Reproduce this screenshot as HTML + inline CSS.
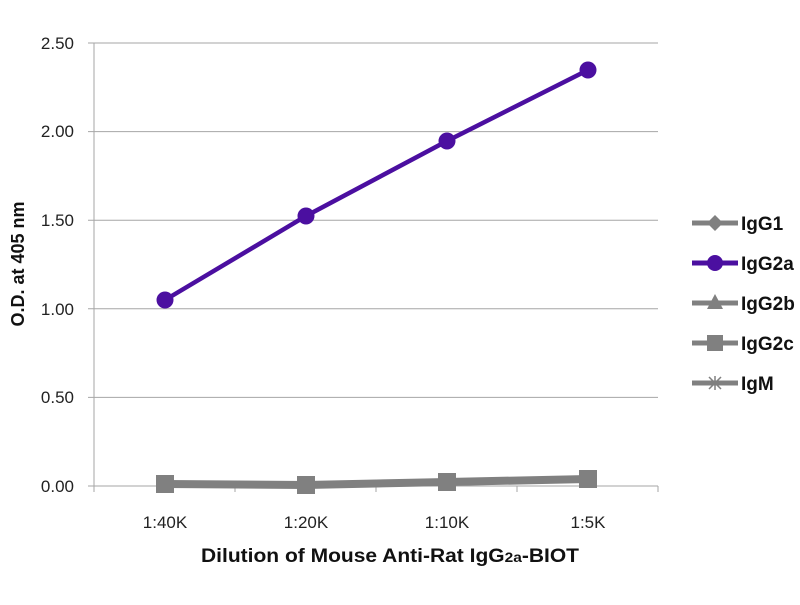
<!DOCTYPE html>
<html><head><style>body{margin:0;background:#fff}</style></head><body>
<svg width="800" height="600" xmlns="http://www.w3.org/2000/svg" font-family="Liberation Sans, sans-serif">
<rect width="800" height="600" fill="#fff"/>
<g stroke="#a6a6a6" stroke-width="1">
<line x1="88" y1="43" x2="658" y2="43"/>
<line x1="88" y1="131.6" x2="658" y2="131.6"/>
<line x1="88" y1="220.2" x2="658" y2="220.2"/>
<line x1="88" y1="308.8" x2="658" y2="308.8"/>
<line x1="88" y1="397.4" x2="658" y2="397.4"/>
<line x1="88" y1="486" x2="658" y2="486"/>
<line x1="94" y1="43" x2="94" y2="486"/>
<line x1="94" y1="486" x2="94" y2="492"/><line x1="235" y1="486" x2="235" y2="492"/><line x1="376" y1="486" x2="376" y2="492"/><line x1="517" y1="486" x2="517" y2="492"/><line x1="658" y1="486" x2="658" y2="492"/>
</g>
<g font-size="17" fill="#222" text-anchor="end">
<text x="74" y="49">2.50</text><text x="74" y="137">2.00</text><text x="74" y="226">1.50</text>
<text x="74" y="315">1.00</text><text x="74" y="403">0.50</text><text x="74" y="492">0.00</text>
</g>
<g font-size="17" fill="#222" text-anchor="middle">
<text x="165" y="528">1:40K</text><text x="306" y="528">1:20K</text><text x="447" y="528">1:10K</text><text x="588" y="528">1:5K</text>
</g>
<text x="390" y="562" font-size="19" font-weight="bold" text-anchor="middle" fill="#111" textLength="378" lengthAdjust="spacingAndGlyphs">Dilution of Mouse Anti-Rat IgG<tspan font-size="14">2a</tspan>-BIOT</text>
<text transform="translate(24,264) rotate(-90)" font-size="18" font-weight="bold" text-anchor="middle" fill="#111">O.D. at 405 nm</text>
<polyline points="165,484 306,485 447,482 588,479" fill="none" stroke="#808080" stroke-width="8"/>
<g fill="#808080">
<rect x="156" y="475" width="18" height="18"/><rect x="297" y="476" width="18" height="18"/><rect x="438" y="473" width="18" height="18"/><rect x="579" y="470" width="18" height="18"/>
</g>
<polyline points="165,300 306,216 447,141 588,70" fill="none" stroke="#4b0fa0" stroke-width="4.5"/>
<g fill="#4b0fa0">
<circle cx="165" cy="300" r="8.5"/><circle cx="306" cy="216" r="8.5"/><circle cx="447" cy="141" r="8.5"/><circle cx="588" cy="70" r="8.5"/>
</g>
<g font-size="19" font-weight="bold" fill="#111">
<line x1="692" y1="223" x2="738" y2="223" stroke="#808080" stroke-width="5"/><path d="M715 215l8 8-8 8-8-8z" fill="#808080"/><text x="741" y="230">IgG1</text>
<line x1="692" y1="263" x2="738" y2="263" stroke="#4b0fa0" stroke-width="5"/><circle cx="715" cy="263" r="8" fill="#4b0fa0"/><text x="741" y="270">IgG2a</text>
<line x1="692" y1="303" x2="738" y2="303" stroke="#808080" stroke-width="5"/><path d="M715 294l8 15h-16z" fill="#808080"/><text x="741" y="310">IgG2b</text>
<line x1="692" y1="343" x2="738" y2="343" stroke="#808080" stroke-width="5"/><rect x="707" y="335" width="16" height="16" fill="#808080"/><text x="741" y="350">IgG2c</text>
<line x1="692" y1="383" x2="738" y2="383" stroke="#808080" stroke-width="5"/><path d="M709 377l12 12M721 377l-12 12M715 376v14" stroke="#808080" stroke-width="1.5"/><text x="741" y="390">IgM</text>
</g>
</svg>
</body></html>
